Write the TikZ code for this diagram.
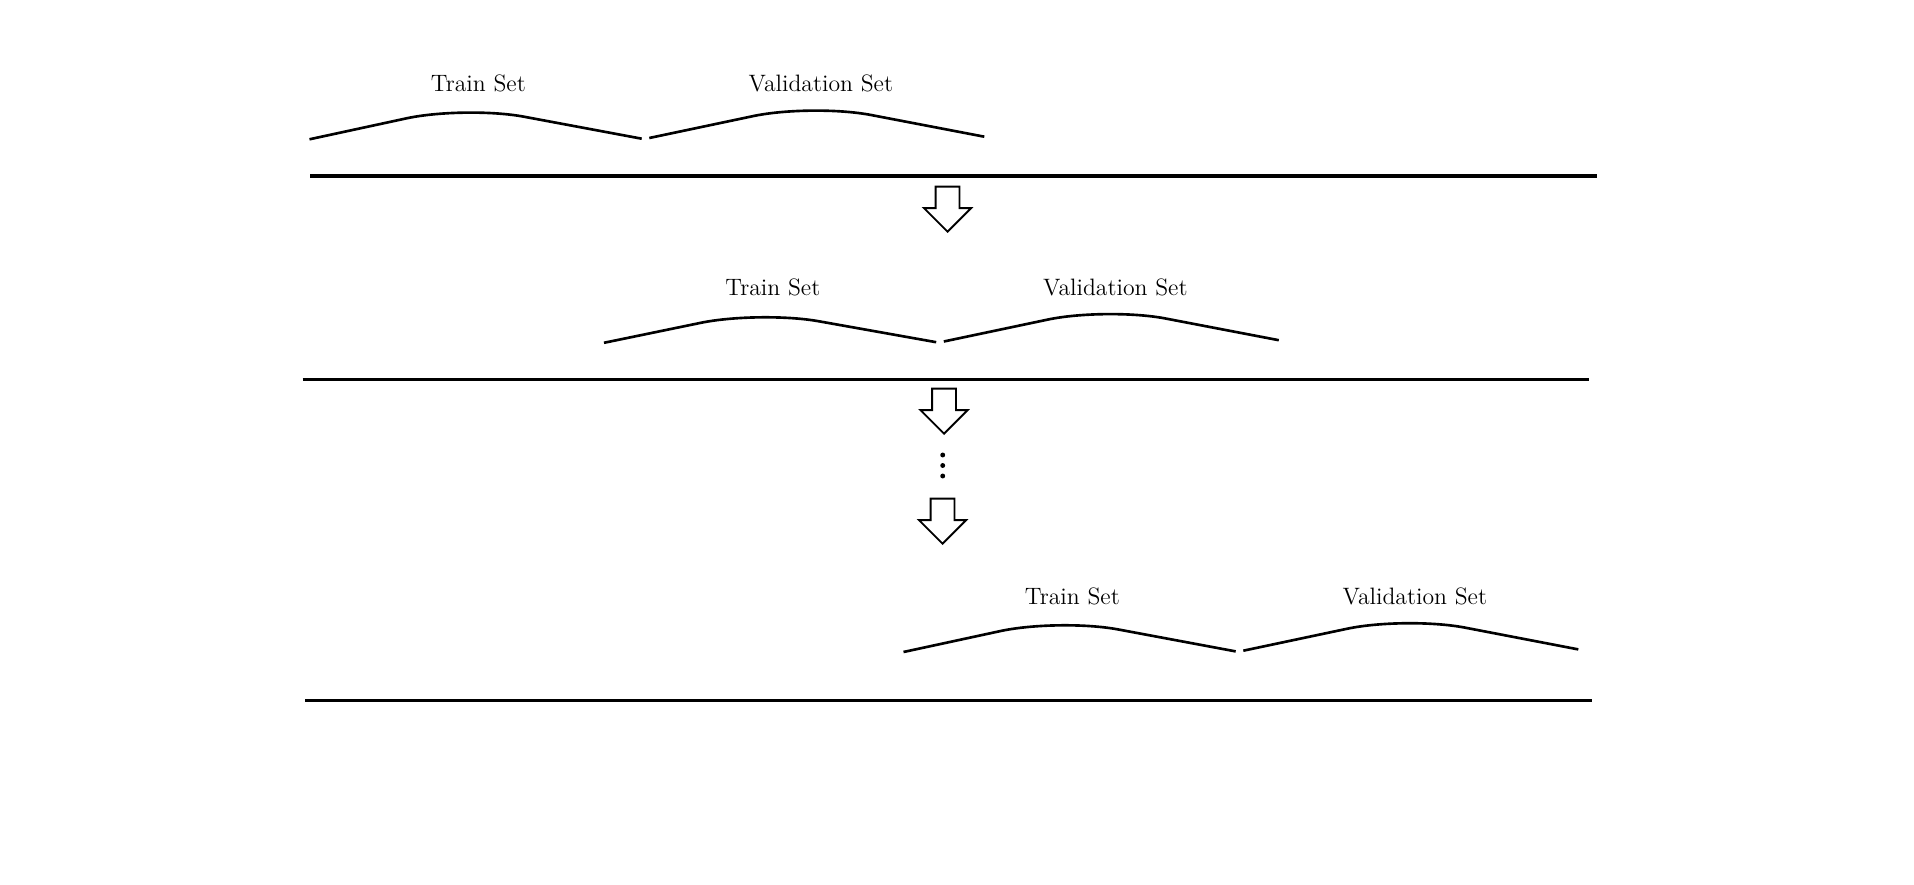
\documentclass[tikz,border=0pt]{standalone}
\usepackage{tikz}
\usetikzlibrary{positioning,shapes.arrows}

\begin{document}
\begin{tikzpicture}[x=0.02cm,y=-0.02cm]

\tikzset{setlabel/.style = {anchor=base,inner sep=0pt,font=\fontsize{13.5}{16}\selectfont}}
\tikzset{hump/.style = {line width=1.5pt,rounded corners=1.2cm}}
\tikzset{axis/.style = {line width=1.9pt}}
\tikzset{downarrow/.style = {single arrow,draw,line width=1.1pt,rotate=-90,anchor=tip,
  inner xsep=0pt,inner ysep=0.22cm,minimum height=0.9cm,
  single arrow head extend=0.23cm,single arrow tip angle=90}}
\tikzset{dot/.style = {circle,fill,inner sep=0pt,minimum size=2.8pt}}

\useasboundingbox (0,0) rectangle (1914,885);

% first split
\coordinate (a1) at (309.5,139.3);
\coordinate (a2) at (465,105.7);
\coordinate (a3) at (641.7,138.7);
\coordinate (a4) at (649.3,138);
\coordinate (a5) at (812,103.7);
\coordinate (a6) at (984.3,136.7);
\coordinate (la) at (310,176);
\coordinate (ra) at (1597,176);
\node[setlabel] (traina) at (478.4,91.7) {Train Set};
\node[setlabel] (valida) at (820.8,91.7) {Validation Set};
\draw[hump] (a1) -- (a2) -- (a3);
\draw[hump] (a4) -- (a5) -- (a6);
\draw[axis] (la) -- (ra);

% second split
\coordinate (b1) at (604,342.8);
\coordinate (b2) at (759.5,310.7);
\coordinate (b3) at (936.2,342.2);
\coordinate (b4) at (943.8,341.5);
\coordinate (b5) at (1106.5,307.2);
\coordinate (b6) at (1278.8,340.2);
\coordinate (lb) at (302.7,379.3);
\coordinate (rb) at (1589.4,379.3);
\node[setlabel] (trainb) at (772.9,295.2) {Train Set};
\node[setlabel] (validb) at (1115.3,295.2) {Validation Set};
\draw[hump] (b1) -- (b2) -- (b3);
\draw[hump] (b4) -- (b5) -- (b6);
\draw[axis] (lb) -- (rb);

% last split
\coordinate (c1) at (903.5,652);
\coordinate (c2) at (1059,618.4);
\coordinate (c3) at (1235.7,651.4);
\coordinate (c4) at (1243.3,650.7);
\coordinate (c5) at (1406,616.3);
\coordinate (c6) at (1578.3,649.4);
\coordinate (lc) at (305,700.7);
\coordinate (rc) at (1591.7,700.7);
\node[setlabel] (trainc) at (1072.4,604.4) {Train Set};
\node[setlabel] (validc) at (1414.8,604.4) {Validation Set};
\draw[hump] (c1) -- (c2) -- (c3);
\draw[hump] (c4) -- (c5) -- (c6);
\draw[axis] (lc) -- (rc);

% arrows and dots
\node[downarrow] (arr1) at (947.5,233) {};
\node[downarrow] (arr2) at (944,435) {};
\node[downarrow] (arr3) at (942.5,545) {};
\node[dot] (d1) at (942.7,455) {};
\node[dot] (d2) at (942.7,465.5) {};
\node[dot] (d3) at (942.7,476) {};
\end{tikzpicture}
\end{document}
